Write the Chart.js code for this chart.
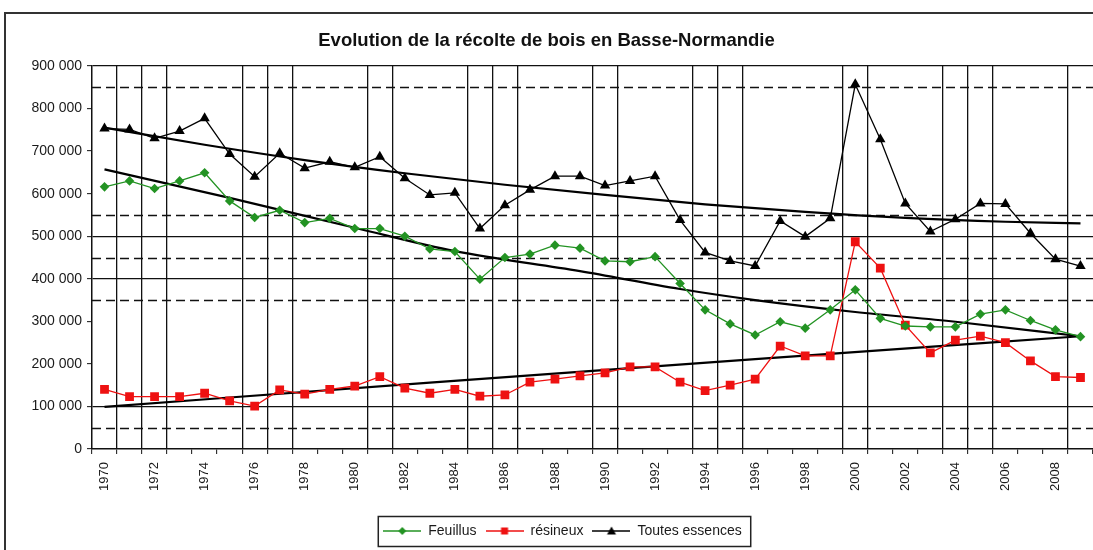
<!DOCTYPE html>
<html>
<head>
<meta charset="utf-8">
<script src="https://cdn.jsdelivr.net/npm/chart.js@4"></script>
<style>
  html, body { margin: 0; padding: 0; background: #fff; }
  #wrap { width: 1093px; height: 550px; }
</style>
</head>
<body>
<div id="wrap"><canvas id="c" width="1093" height="550"></canvas></div>
<script>
// Years of harvest
const years = ['1970','1971','1972','1973','1974','1975','1976','1977','1978','1979',
               '1980','1981','1982','1983','1984','1985','1986','1987','1988','1989',
               '1990','1991','1992','1993','1994','1995','1996','1997','1998','1999',
               '2000','2001','2002','2003','2004','2005','2006','2007','2008','2009'];

// Harvest volumes (m3)
const feuillus = [616000,630000,612000,630000,649000,583000,544000,561000,532000,542000,
                  518000,518000,500000,470000,464000,399000,450000,458000,479000,472000,
                  442000,440000,452000,389000,327000,294000,268000,299000,284000,327000,
                  374000,307000,289000,287000,287000,317000,327000,302000,280000,264000];
const resineux = [140000,123000,123000,123000,131000,113000,101000,139000,129000,140000,
                  148000,170000,143000,131000,140000,124000,127000,157000,164000,172000,
                  179000,193000,193000,157000,137000,150000,164000,242000,219000,219000,
                  487000,425000,291000,226000,256000,265000,250000,207000,170000,168000];
const toutes   = [753000,751000,730000,747000,777000,693000,640000,695000,660000,675000,
                  662000,687000,636000,597000,602000,518000,573000,609000,641000,641000,
                  619000,630000,641000,538000,462000,442000,430000,536000,499000,542000,
                  857000,728000,577000,511000,540000,577000,576000,507000,446000,430000];

// Trend curves (year, value)
const trendToutesYears   = ['1970','1974','1978','1982','1986','1990','1994','1998','2002','2006','2009'];
const trendToutesValues  = [755000,715000,679000,648000,621000,597000,575000,557000,543000,534000,530000];
const trendFeuillusYears = ['1970','1975','1980','1984','1989','1993','1996','2000','2004','2009'];
const trendFeuillusValues= [657000,590000,520000,465000,418000,376000,350000,322000,299000,265000];
const trendResineuxYears = ['1970','1983','1996','2009'];
const trendResineuxValues= [99000,156000,211000,265000];

// Y axis
const yMin = 0, yMax = 900000, yStep = 100000;
const solidLevels  = [100000, 400000, 500000, 900000];
const dashedLevels = [50000, 350000, 450000, 550000, 850000];
// Vertical separators between years (boundary index before category i)
const verticalSeparators = [1,2,3,6,7,8,11,12,15,16,17,20,21,24,25,26,30,31,34,35,36,39];

const GREEN = '#239323', RED = '#ee1111', BLACK = '#000000';
const FONT = "'Liberation Sans', Arial, sans-serif";

function pairs(xs, ys) { return xs.map((x, i) => ({ x: x, y: ys[i] })); }
function fmt(v) { return String(v).replace(/\B(?=(\d{3})+(?!\d))/g, ' '); }

// Legend icons: short line with its marker
function legendIcon(color, shape) {
  const c = document.createElement('canvas');
  c.width = 38; c.height = 14;
  const g = c.getContext('2d');
  g.strokeStyle = color; g.fillStyle = color; g.lineWidth = 1.3;
  g.beginPath(); g.moveTo(0, 7); g.lineTo(38, 7); g.stroke();
  g.beginPath();
  if (shape === 'diamond') { g.moveTo(19, 3); g.lineTo(23, 7); g.lineTo(19, 11); g.lineTo(15, 7); }
  else if (shape === 'square') { g.rect(15.5, 3.5, 7, 7); }
  else { g.moveTo(19, 2.5); g.lineTo(23.5, 10.5); g.lineTo(14.5, 10.5); }
  g.closePath(); g.fill();
  return c;
}
const icons = [legendIcon(GREEN, 'diamond'), legendIcon(RED, 'square'), legendIcon(BLACK, 'triangle')];

const legendShift = 16;

const decor = {
  id: 'decor',
  beforeDraw(chart) {
    const ctx = chart.ctx;
    ctx.save();
    ctx.fillStyle = '#fff';
    ctx.fillRect(0, 0, chart.width, chart.height);
    ctx.strokeStyle = '#333';
    ctx.lineWidth = 2;
    ctx.strokeRect(5, 13, chart.width + 20, chart.height + 20);
    ctx.restore();
  },
  afterLayout(chart) {
    chart.legend.left += legendShift;
    chart.legend.right += legendShift;
  },
  beforeDatasetsDraw(chart) {
    const ctx = chart.ctx, a = chart.chartArea, y = chart.scales.y;
    ctx.save();
    ctx.strokeStyle = '#111';
    ctx.lineWidth = 1.3;
    ctx.setLineDash([9, 5]);
    dashedLevels.forEach(v => {
      const py = Math.round(y.getPixelForValue(v)) + 0.5;
      ctx.beginPath(); ctx.moveTo(a.left, py); ctx.lineTo(a.right, py); ctx.stroke();
    });
    ctx.restore();
  },
  afterDraw(chart) {
    const lg = chart.legend, hb = lg.legendHitBoxes;
    if (!hb || !hb.length) return;
    const first = hb[0], last = hb[hb.length - 1];
    const cy = first.top + first.height / 2;
    const ctx = chart.ctx;
    ctx.save();
    ctx.strokeStyle = '#222';
    ctx.lineWidth = 1.5;
    ctx.strokeRect(first.left - 5, Math.round(cy - 15) + 0.5, (last.left + last.width + 9) - (first.left - 5), 30);
    ctx.restore();
  }
};

const trendStyle = {
  type: 'line', borderColor: '#000', borderWidth: 2.2, pointRadius: 0,
  cubicInterpolationMode: 'monotone', fill: false, order: 10
};

new Chart(document.getElementById('c'), {
  type: 'line',
  data: {
    labels: years,
    datasets: [
      { label: 'Feuillus', data: feuillus, borderColor: GREEN, backgroundColor: GREEN,
        borderWidth: 1.3, pointStyle: 'rectRot', pointRadius: 4.8, pointBorderWidth: 0, order: 1 },
      { label: 'résineux', data: resineux, borderColor: RED, backgroundColor: RED,
        borderWidth: 1.3, pointStyle: 'rect', pointRadius: 6.2, pointBorderWidth: 0, order: 2 },
      { label: 'Toutes essences', data: toutes, borderColor: BLACK, backgroundColor: BLACK,
        borderWidth: 1.3, pointStyle: 'triangle', pointRadius: 6, pointBorderWidth: 0, order: 3 },
      Object.assign({ label: 'trendToutes', data: pairs(trendToutesYears, trendToutesValues) }, trendStyle),
      Object.assign({ label: 'trendFeuillus', data: pairs(trendFeuillusYears, trendFeuillusValues) }, trendStyle),
      Object.assign({ label: 'trendResineux', data: pairs(trendResineuxYears, trendResineuxValues) }, trendStyle)
    ]
  },
  options: {
    responsive: false,
    animation: false,
    layout: { autoPadding: false, padding: { top: 20, left: 0, right: 0, bottom: 2 } },
    elements: { line: { tension: 0 } },
    plugins: {
      title: {
        display: true,
        text: 'Evolution de la récolte de bois en Basse-Normandie',
        color: '#111',
        font: { family: FONT, size: 18.5, weight: 'bold' },
        padding: { top: 10, bottom: 13.8 }
      },
      legend: {
        position: 'bottom',
        labels: {
          usePointStyle: true,
          pointStyleWidth: 38,
          padding: 9,
          color: '#1a1a1a',
          font: { family: FONT, size: 14 },
          filter: item => item.datasetIndex < 3,
          generateLabels: chart => {
            const items = Chart.defaults.plugins.legend.labels.generateLabels(chart);
            items.forEach(it => { if (it.datasetIndex < 3) it.pointStyle = icons[it.datasetIndex]; });
            return items;
          }
        }
      },
      tooltip: { enabled: false }
    },
    scales: {
      x: {
        type: 'category',
        offset: true,
        grid: {
          offset: true,
          drawOnChartArea: true,
          color: ctx => verticalSeparators.includes(ctx.index) ? '#111' : 'rgba(0,0,0,0)',
          lineWidth: 1.3,
          tickColor: '#111',
          tickLength: 5,
          tickWidth: 1
        },
        border: { color: '#111', width: 1.5 },
        ticks: {
          autoSkip: false,
          minRotation: 90,
          maxRotation: 90,
          padding: 8,
          color: '#1a1a1a',
          font: { family: FONT, size: 13 },
          callback: function (v, i) { return i % 2 === 0 ? years[i] : ''; }
        },
        afterFit: s => { s.height = 66; s.paddingLeft = 0; s.paddingRight = 0; }
      },
      y: {
        min: yMin, max: yMax,
        grid: {
          color: ctx => (ctx.tick && solidLevels.includes(ctx.tick.value)) ? '#111' : 'rgba(0,0,0,0)',
          lineWidth: 1.3,
          tickColor: '#111',
          tickLength: 5,
          tickWidth: 1
        },
        border: { color: '#111', width: 1.5 },
        ticks: {
          stepSize: yStep,
          padding: 5,
          color: '#1a1a1a',
          font: { family: FONT, size: 14 },
          callback: v => fmt(v)
        },
        afterFit: s => { s.width = 92; }
      }
    }
  },
  plugins: [decor]
});
</script>
</body>
</html>
